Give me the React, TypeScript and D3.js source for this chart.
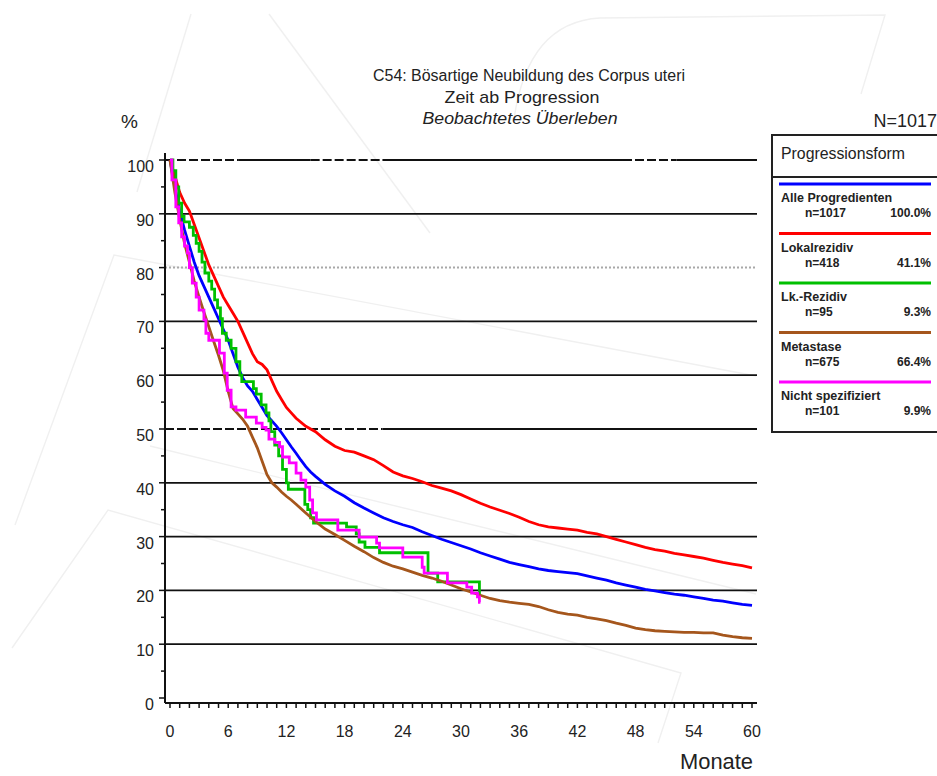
import React from "react";
import * as d3 from "d3";

// Kaplan–Meier survival estimates (months since progression, % surviving)
const monthTicks = [0, 6, 12, 18, 24, 30, 36, 42, 48, 54, 60];
const percentTicks = [0, 10, 20, 30, 40, 50, 60, 70, 80, 90, 100];

const alleProgredienten: [number, number][] = [
  [0, 100], [0.5, 95], [1, 90.5], [1.5, 87], [2, 84], [2.5, 81], [3, 78.5], [3.5, 76.5], [4, 74.5],
  [4.5, 72.5], [5, 70.5], [5.5, 68.5], [6, 66.5], [6.5, 64], [7, 61.5], [7.5, 59.5], [8, 58], [8.5, 57],
  [9, 55.5], [9.5, 54], [10, 52.5], [10.5, 51.5], [11, 50.5], [11.5, 49.3], [12, 48], [12.5, 46.7],
  [13, 45.5], [13.5, 44.2], [14, 43], [14.5, 42], [15, 41.2], [16, 39.7], [17, 38.5], [18, 37.5],
  [19, 36.3], [20, 35.3], [21, 34.4], [22, 33.5], [23, 32.8], [24, 32.2], [25, 31.7], [26, 30.9],
  [27, 30.2], [28, 29.5], [29, 28.9], [30, 28.3], [31, 27.7], [32, 27], [33, 26.4], [34, 25.8],
  [35, 25.2], [36, 24.8], [37, 24.4], [38, 24], [39, 23.7], [40, 23.5], [41, 23.3], [42, 23.1],
  [43, 22.7], [44, 22.3], [45, 21.9], [46, 21.4], [47, 21], [48, 20.6], [49, 20.2], [50, 19.9],
  [51, 19.6], [52, 19.3], [53, 19.1], [54, 18.8], [55, 18.5], [56, 18.2], [57, 18], [58, 17.7],
  [59, 17.4], [60, 17.2],
];

const lokalrezidiv: [number, number][] = [
  [0, 100], [0.5, 97], [1, 94], [1.5, 92], [2, 90.5], [2.5, 88], [3, 85.5], [3.5, 83], [4, 80.5],
  [4.5, 78.5], [5, 76.5], [5.5, 74.5], [6, 73], [6.5, 71.5], [7, 70], [7.5, 68], [8, 66], [8.5, 64],
  [9, 62.5], [9.5, 62], [10, 61], [10.5, 59], [11, 57], [11.5, 55.5], [12, 54], [12.5, 53], [13, 52],
  [14, 50.5], [15, 49.5], [16, 48], [17, 46.8], [18, 46], [19, 45.7], [20, 45], [21, 44.3], [22, 43.2],
  [23, 42], [24, 41.3], [25, 40.8], [26, 40.2], [27, 39.5], [28, 39], [29, 38.5], [30, 37.8], [31, 37],
  [32, 36.2], [33, 35.5], [34, 34.9], [35, 34.3], [36, 33.6], [37, 32.8], [38, 32.2], [39, 31.8],
  [40, 31.6], [41, 31.4], [42, 31.2], [43, 30.8], [44, 30.5], [45, 30], [46, 29.5], [47, 29], [48, 28.5],
  [49, 28], [50, 27.6], [51, 27.3], [52, 26.9], [53, 26.6], [54, 26.3], [55, 26], [56, 25.6], [57, 25.2],
  [58, 24.9], [59, 24.6], [60, 24.2],
];

const lkRezidiv: [number, number][] = [
  [0, 100], [0.3, 98], [0.6, 95], [0.9, 92], [1.2, 89.5], [1.45, 88.5], [2, 87.5], [2.4, 86], [2.7, 84.5],
  [3, 83], [3.3, 81], [3.6, 79], [4, 77.5], [4.3, 76], [4.6, 74], [4.9, 72.5], [5.2, 70.5], [5.4, 67.8],
  [5.8, 66.5], [6.3, 65], [6.8, 62.5], [7.2, 60], [7.4, 58.8], [8.6, 57.5], [8.9, 56.5], [9.4, 54.5],
  [9.9, 53], [10.2, 51.5], [10.4, 49.5], [10.8, 47], [11.2, 45], [11.6, 42.5], [12, 40], [12.2, 38.8],
  [13.9, 36], [14.2, 35], [14.5, 33.5], [14.8, 32.5], [18.2, 31.8], [19.2, 30.5], [19.5, 29], [20.1, 28],
  [21.6, 27], [26.6, 23.2], [27.6, 21.6], [31.9, 19.3], [32, 19.3],
];

const metastase: [number, number][] = [
  [0, 100], [0.5, 94], [1, 89], [1.5, 84.5], [2, 81], [2.5, 77.5], [3, 74.5], [3.5, 71.7], [4, 69],
  [4.5, 66.3], [5, 63.7], [5.5, 60.8], [6, 57], [6.5, 53.8], [7, 52.8], [7.5, 51.8], [8, 50.5], [8.5, 48.5],
  [9, 46.5], [9.5, 44], [10, 41.5], [10.5, 40], [11, 39.2], [11.5, 38.3], [12, 37.5], [12.5, 36.8], [13, 36],
  [14, 34.4], [15, 32.8], [16, 31.4], [17, 30.4], [18, 29.3], [19, 28.2], [20, 27.2], [21, 26.1], [22, 25.2],
  [23, 24.5], [24, 24], [25, 23.4], [26, 22.8], [27, 22.3], [28, 21.7], [29, 21], [30, 20.3], [31, 19.7],
  [32, 19.1], [33, 18.5], [34, 18.1], [35, 17.8], [36, 17.6], [37, 17.4], [38, 17], [39, 16.4], [40, 15.9],
  [41, 15.6], [42, 15.4], [43, 15], [44, 14.7], [45, 14.4], [46, 13.9], [47, 13.5], [48, 13], [49, 12.7],
  [50, 12.5], [51, 12.4], [52, 12.3], [53, 12.2], [54, 12.2], [55, 12.1], [56, 12.1], [57, 11.7],
  [58, 11.4], [59, 11.2], [60, 11.1],
];

const nichtSpezifiziert: [number, number][] = [
  [0, 100], [0.2, 96.3], [0.6, 91.3], [0.9, 88.3], [1.2, 85.7], [1.5, 84], [1.8, 82.7], [2, 80], [2.3, 77.1],
  [2.7, 74.5], [3, 72.1], [3.5, 70.3], [3.7, 67.8], [4, 66.5], [5.1, 64.1], [5.6, 60.4], [5.9, 57.2],
  [6.3, 54.1], [6.8, 53.5], [7.8, 52.2], [8.9, 51.1], [9.5, 50.3], [9.9, 49.8], [10.2, 48.1], [10.8, 47.5],
  [11.3, 46.7], [11.6, 44.8], [12.3, 43.7], [13, 41.8], [13.5, 40.5], [14, 39.2], [14.4, 36.8], [14.7, 34.4],
  [15.1, 33.1], [17.3, 31.2], [19.5, 29.9], [21.3, 28.8], [21.6, 27.9], [24, 26.2], [26, 24.3], [26.2, 23.2],
  [28.6, 21.4], [30.6, 20.6], [31.1, 19.5], [31.7, 18.8], [31.9, 17.8], [32, 17.8],
];

const seriesNames = ["Alle Progredienten", "Lokalrezidiv", "Lk.-Rezidiv", "Metastase", "Nicht spezifiziert"];
const seriesCounts = ["n=1017", "n=418", "n=95", "n=675", "n=101"];
const seriesShares = ["100.0%", "41.1%", "9.3%", "66.4%", "9.9%"];
const seriesData = [alleProgredienten, lokalrezidiv, lkRezidiv, metastase, nichtSpezifiziert];
const seriesColors = ["#0000ff", "#ff0000", "#00c000", "#a5561c", "#ff00ff"];
const seriesStepped = [false, false, true, false, true];

const titleLines = ["C54: Bösartige Neubildung des Corpus uteri", "Zeit ab Progression", "Beobachtetes Überleben"];

const W = 937;
const H = 776;
const FONT = "'Liberation Sans', Arial, Helvetica, sans-serif";

export default function App() {
  const x = d3.scaleLinear().domain([0, 60]).range([170, 752]);
  const y = d3.scaleLinear().domain([0, 100]).range([698, 160]);
  const axisX = 165;
  const axisY = 703;
  const gridEnd = 757;

  const lineLinear = d3.line<[number, number]>().x((d) => x(d[0])).y((d) => y(d[1])).curve(d3.curveLinear);
  const lineStep = d3.line<[number, number]>().x((d) => x(d[0])).y((d) => y(d[1])).curve(d3.curveStepAfter);

  // dashed stretches of the 100 % and 50 % reference lines (in months)
  const dashed100 = [[-0.55, 7.1], [14.5, 21.9], [46.7, 52.2]];
  const dashed50 = [[-0.55, 21.9]];

  const refLine = (pct: number, dashed: number[][], key: string) => {
    const yy = y(pct);
    const x0 = axisX;
    const pieces: React.ReactNode[] = [];
    let cur = x0;
    dashed.forEach(([a, b], i) => {
      const xa = Math.max(x0, x(a));
      const xb = x(b);
      if (xa > cur) pieces.push(<line key={`${key}s${i}`} x1={cur} x2={xa} y1={yy} y2={yy} stroke="#111" strokeWidth={1.8} />);
      pieces.push(<line key={`${key}d${i}`} x1={xa} x2={xb} y1={yy} y2={yy} stroke="#111" strokeWidth={1.8} strokeDasharray="9 3" />);
      cur = xb;
    });
    if (cur < gridEnd) pieces.push(<line key={`${key}e`} x1={cur} x2={gridEnd} y1={yy} y2={yy} stroke="#111" strokeWidth={1.8} />);
    return pieces;
  };

  const minorY = d3.range(5, 100, 10);
  const monthMinor = d3.range(0, 61, 1);

  const legendX = 772;
  const legendTop = 135;
  const legendItem0 = 184;
  const legendStep = 49.5;

  return (
    <svg width={W} height={H} style={{ position: "absolute", left: 0, top: 0, display: "block", background: "#fff" }} fontFamily={FONT}>
      <rect width={W} height={H} fill="#fff" />

      {/* faint background logo outlines */}
      <g fill="none" stroke="#f0f0f0" strokeWidth={1.4}>
        <polyline points="191,14 137,192" />
        <polyline points="269,14 430,233" />
        <polyline points="15,525 114,255 756,376" />
        <polyline points="150,446 756,594" />
        <polyline points="12,648 108,510 681,673 658,743" />
        <path d="M514,119 Q528,22 600,18 L885,15 L861,94" />
      </g>

      {/* reference lines */}
      {percentTicks.filter((p) => p > 0).map((p) => {
        if (p === 100) return refLine(100, dashed100, "r100");
        if (p === 50) return refLine(50, dashed50, "r50");
        if (p === 80)
          return (
            <line key="r80" x1={axisX} x2={gridEnd} y1={y(80)} y2={y(80)} stroke="#a8a8a8" strokeWidth={2} strokeDasharray="2 2" />
          );
        return <line key={`g${p}`} x1={axisX} x2={gridEnd} y1={y(p)} y2={y(p)} stroke="#111" strokeWidth={1.8} />;
      })}

      {/* axes */}
      <line x1={axisX} x2={axisX} y1={153} y2={axisY} stroke="#111" strokeWidth={2} />
      <line x1={axisX} x2={gridEnd} y1={axisY} y2={axisY} stroke="#111" strokeWidth={2} />
      {percentTicks.map((p) => (
        <g key={`yt${p}`}>
          <line x1={159} x2={axisX} y1={y(p)} y2={y(p)} stroke="#111" strokeWidth={1.5} />
          <text x={154} y={y(p) + 12} textAnchor="end" fontSize={16} fill="#222">{p}</text>
        </g>
      ))}
      {minorY.map((p) => (
        <line key={`ym${p}`} x1={161} x2={axisX} y1={y(p)} y2={y(p)} stroke="#111" strokeWidth={1.5} />
      ))}
      {monthMinor.map((m) => (
        <line key={`xm${m}`} x1={x(m)} x2={x(m)} y1={axisY} y2={axisY + 5} stroke="#111" strokeWidth={1.5} />
      ))}
      {monthTicks.map((m) => (
        <text key={`xt${m}`} x={x(m)} y={737} textAnchor="middle" fontSize={16} fill="#222">{m}</text>
      ))}

      {/* survival curves */}
      {seriesData.map((d, i) => (
        <path
          key={`c${i}`}
          d={(seriesStepped[i] ? lineStep : lineLinear)(d) || ""}
          fill="none"
          stroke={seriesColors[i]}
          strokeWidth={2.8}
          strokeLinejoin="miter"
        />
      ))}

      {/* titles */}
      <text x={529} y={81} textAnchor="middle" fontSize={16} fill="#222" textLength={312} lengthAdjust="spacingAndGlyphs">{titleLines[0]}</text>
      <text x={522} y={103} textAnchor="middle" fontSize={17} fill="#222" textLength={155} lengthAdjust="spacingAndGlyphs">{titleLines[1]}</text>
      <text x={520} y={124} textAnchor="middle" fontSize={17} fontStyle="italic" fill="#222" textLength={195} lengthAdjust="spacingAndGlyphs">{titleLines[2]}</text>
      <text x={121} y={128} fontSize={19} fill="#222">%</text>
      <text x={937} y={127} textAnchor="end" fontSize={18} fill="#222">N=1017</text>
      <text x={753} y={769} textAnchor="end" fontSize={22} fill="#222" textLength={73} lengthAdjust="spacingAndGlyphs">Monate</text>

      {/* legend */}
      <rect x={legendX} y={legendTop} width={180} height={297} fill="#fff" stroke="#222" strokeWidth={2} />
      <line x1={legendX} x2={W} y1={177} y2={177} stroke="#222" strokeWidth={2} />
      <text x={781} y={159} fontSize={16} fill="#222" textLength={124} lengthAdjust="spacingAndGlyphs">Progressionsform</text>
      {seriesNames.map((name, i) => {
        const ly = legendItem0 + i * legendStep;
        return (
          <g key={`lg${i}`}>
            <line x1={779} x2={931} y1={ly} y2={ly} stroke={seriesColors[i]} strokeWidth={3} />
            <text x={781} y={ly + 18} fontSize={12.5} fontWeight="bold" fill="#222">{name}</text>
            <text x={805} y={ly + 33} fontSize={12} fontWeight="bold" fill="#222">{seriesCounts[i]}</text>
            <text x={931} y={ly + 33} textAnchor="end" fontSize={12} fontWeight="bold" fill="#222">{seriesShares[i]}</text>
          </g>
        );
      })}
    </svg>
  );
}
